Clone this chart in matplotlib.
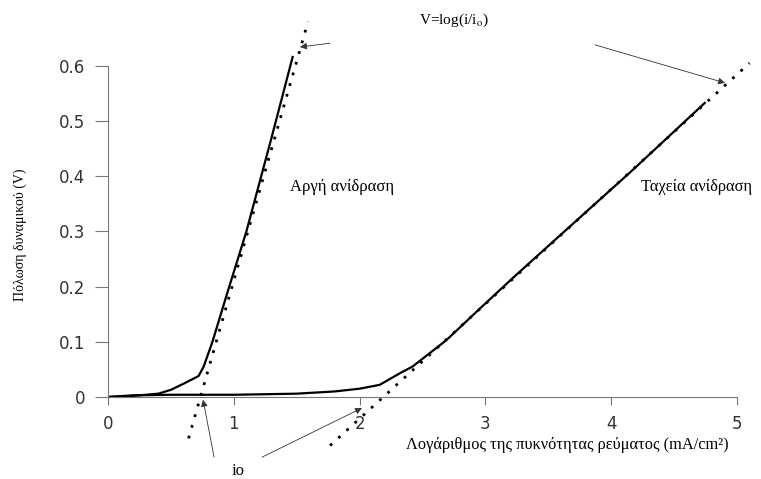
import matplotlib
matplotlib.use('Agg')
import matplotlib.pyplot as plt

matplotlib.rcParams['axes.unicode_minus'] = False
matplotlib.rcParams['mathtext.fontset'] = 'stix'

# measured curves (log current density, overpotential V)
slow_x = [0, 0.2, 0.4, 0.5, 0.6, 0.72, 0.76, 0.83, 0.95, 1.1, 1.3, 1.47]
slow_y = [0, 0.002, 0.006, 0.013, 0.024, 0.038, 0.055, 0.10, 0.19, 0.30, 0.47, 0.618]

fast_x = [0, 0.2, 0.5, 1.0, 1.5, 1.8, 2.0, 2.16, 2.32, 2.42, 2.69, 2.96, 3.22, 3.57, 4.17, 4.75]
fast_y = [0, 0.003, 0.004, 0.004, 0.006, 0.01, 0.015, 0.022, 0.043, 0.055, 0.103, 0.161, 0.216, 0.288, 0.411, 0.534]

# tafel lines (end points)
tafel_slow_x = [0.64, 1.59]
tafel_slow_y = [-0.075, 0.68]
tafel_fast_x = [1.765, 5.10]
tafel_fast_y = [-0.088, 0.605]

xticks = [0, 1, 2, 3, 4, 5]
xtick_labels = ['0', '1', '2', '3', '4', '5']
yticks = [0, 0.1, 0.2, 0.3, 0.4, 0.5, 0.6]
ytick_labels = ['0', '0.1', '0.2', '0.3', '0.4', '0.5', '0.6']

serif = 'Liberation Serif'

fig = plt.figure(figsize=(7.61, 4.79), dpi=100)
ax = fig.add_axes([0, 0, 1, 1])
ax.set_xlim(-0.859, 5.191)
ax.set_ylim(-0.1486, 0.7192)

ax.plot(slow_x, slow_y, '-', color='black', lw=1.6, solid_capstyle='butt')
ax.plot(fast_x, fast_y, '-', color='black', lw=1.6, solid_capstyle='butt')
ax.plot(tafel_slow_x, tafel_slow_y, color='black', lw=2, linestyle=(0, (1, 3)))
ax.plot(tafel_fast_x, tafel_fast_y, color='black', lw=2, linestyle=(0, (1, 3)))

for s in ['top', 'right']:
    ax.spines[s].set_visible(False)
ax.spines['left'].set_position(('data', 0))
ax.spines['bottom'].set_position(('data', 0))
ax.spines['left'].set_bounds(0, 0.6)
ax.spines['bottom'].set_bounds(0, 5)
for s in ['left', 'bottom']:
    ax.spines[s].set_color('#777777')
    ax.spines[s].set_linewidth(0.8)

ax.set_xticks(xticks)
ax.set_xticklabels(xtick_labels)
ax.set_yticks(yticks)
ax.set_yticklabels(ytick_labels)
ax.tick_params(axis='y', direction='out', length=9.4, width=0.8, pad=7, color='#777777',
               labelsize=12, labelcolor='#333333')
ax.tick_params(axis='x', direction='out', length=6, width=0.8, pad=7, color='#777777',
               labelsize=12, labelcolor='#333333')
for t in ax.get_xticklabels() + ax.get_yticklabels():
    t.set_family('DejaVu Sans')

# labels
ax.text(3.65, -0.087, 'Λογάριθμος της πυκνότητας ρεύματος (mA/cm²)', family=serif,
        fontsize=11.8, ha='center', va='center')
ax.text(-0.70, 0.293, 'Πόλωση δυναμικού (V)', family=serif, fontsize=10,
        rotation=90, ha='center', va='center')
ax.text(1.447, 0.38, 'Αργή ανίδραση', family=serif, fontsize=12, ha='left', va='center')
ax.text(4.24, 0.38, 'Ταχεία ανίδραση', family=serif, fontsize=11.8, ha='left', va='center')
ax.text(2.472, 0.683, r'V=log(i/i$_{\mathrm{o}}$)', family=serif, fontsize=11,
        ha='left', va='center')
ax.text(1.032, -0.134, 'io', family=serif, fontsize=12, ha='center', va='center')

arrow = dict(arrowstyle='-|>', color='#333333', lw=0.6, mutation_scale=10, shrinkA=0, shrinkB=0)
ax.annotate('', xy=(1.526, 0.634), xytext=(1.765, 0.641), arrowprops=arrow)
ax.annotate('', xy=(4.905, 0.569), xytext=(3.871, 0.638), arrowprops=arrow)
ax.annotate('', xy=(0.755, -0.005), xytext=(0.843, -0.109), arrowprops=arrow)
ax.annotate('', xy=(2.019, -0.020), xytext=(1.224, -0.109), arrowprops=arrow)

fig.savefig('out.png', dpi=100)
